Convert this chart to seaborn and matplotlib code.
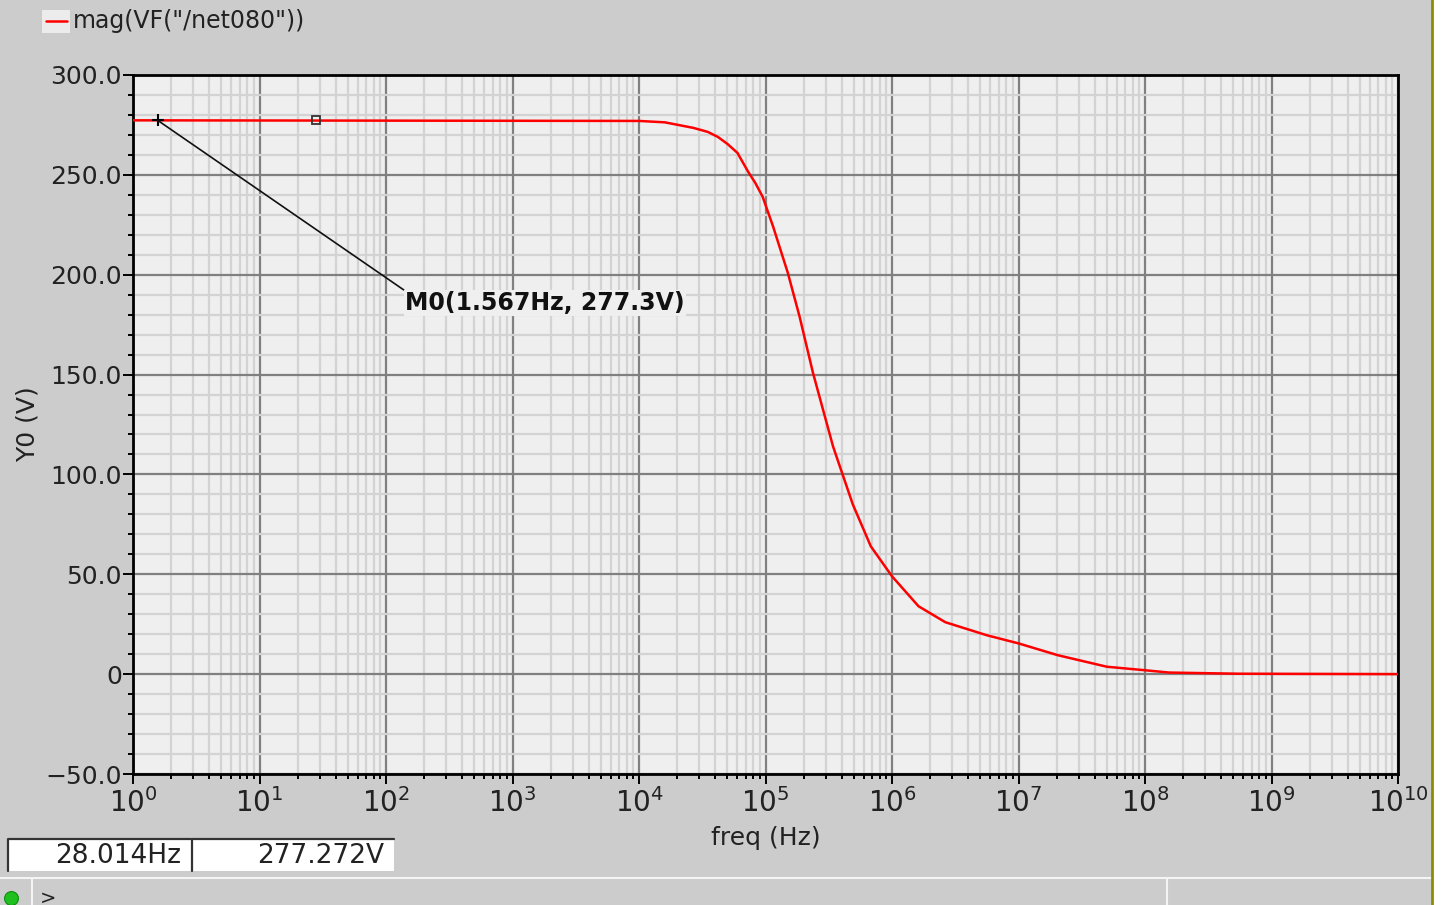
import numpy as np
import matplotlib
matplotlib.use("Agg")
import matplotlib.pyplot as plt
import seaborn as sns
from matplotlib.patches import Rectangle
from matplotlib.lines import Line2D
from matplotlib.ticker import LogLocator, FixedLocator, MultipleLocator, FuncFormatter

freq = [1e0, 1e4, 1.6e4, 2.7e4, 3.5e4, 4.2e4, 5.0e4, 6.0e4, 7.3e4, 8.3e4, 9.5e4,
        1.15e5, 1.5e5, 1.86e5, 2.37e5, 3.42e5, 4.9e5, 6.8e5, 1.0e6, 1.62e6, 2.64e6,
        5.6e6, 1.0e7, 2.04e7, 5.0e7, 9.8e7, 1.55e8, 5.5e8, 1e10]
mag = [277.3, 277.0, 276.3, 273.5, 271.5, 269.0, 265.5, 261.0, 251.5, 246.0, 239.0,
       224.0, 201.0, 179.0, 151.0, 114.0, 85.0, 64.0, 49.0, 34.0, 26.0,
       19.5, 15.4, 9.5, 3.7, 2.0, 0.8, 0.2, 0.0]
trace_name = 'mag(VF("/net080"))'
m0_freq, m0_val = 1.567, 277.3
m0_label = "M0(1.567Hz, 277.3V)"
cursor_freq, cursor_val = 28.014, 277.272
cursor_texts = ["28.014Hz", "277.272V"]
x_ticks = [10.0 ** k for k in range(0, 11)]
y_ticks = [-50, 0, 50, 100, 150, 200, 250, 300]

W, H = 1442, 905
BG = "#cccccc"
PLOT_BG = "#efefef"

sns.set_theme(style="white")
plt.rcParams["font.family"] = ["DejaVu Sans"]
plt.rcParams["mathtext.default"] = "regular"

fig = plt.figure(figsize=(W / 100, H / 100), dpi=100, facecolor=BG)


def fx(x):
    return x / W


def fy(y):
    return 1 - y / H


ax = fig.add_axes([fx(133), fy(774), fx(1398) - fx(133), fy(75) - fy(774)])
ax.set_facecolor(PLOT_BG)

sns.lineplot(x=freq, y=mag, ax=ax, color="#ff0000", linewidth=1.8, sort=False, zorder=3)

ax.set_xscale("log")
ax.set_xlim(1, 1e10)
ax.set_ylim(-50, 300)

ax.xaxis.set_major_locator(FixedLocator(x_ticks))
ax.xaxis.set_major_formatter(FuncFormatter(
    lambda v, p: r"$10^{%d}$" % int(round(np.log10(v)))))
ax.xaxis.set_minor_locator(LogLocator(base=10, subs=np.arange(2, 10), numticks=20))
ax.yaxis.set_major_locator(FixedLocator(y_ticks))
ax.yaxis.set_minor_locator(MultipleLocator(10))
ax.yaxis.set_major_formatter(FuncFormatter(
    lambda v, p: "0" if v == 0 else f"{v:.1f}".replace("-", "\u2212")))

ax.set_axisbelow(True)
ax.grid(which="major", color="#808080", linewidth=1.6)
ax.grid(which="minor", color="#d3d3d3", linewidth=1.6)

for s in ax.spines.values():
    s.set_color("black")
    s.set_linewidth(2)

ax.tick_params(which="major", direction="out", length=7, width=1.4, color="black",
               labelsize=18, labelcolor="#222222", pad=1)
ax.tick_params(which="minor", direction="out", length=3.5, width=1.4, color="black")
ax.tick_params(axis="x", which="major", pad=3, labelsize=20)
ax.tick_params(left=True, bottom=True, which="both")

ax.set_xlabel("freq (Hz)", fontsize=18, color="#222222", labelpad=6)
ax.set_ylabel("Y0 (V)", fontsize=18, color="#222222", labelpad=4)

# markers
ax.plot([m0_freq], [m0_val], marker="+", color="black", markersize=9, mew=1.5, zorder=5)
ax.plot([cursor_freq], [cursor_val], marker="s", markersize=6, mfc="none",
        mec="#333333", mew=1.3, zorder=5)
ax.annotate(m0_label, xy=(m0_freq, m0_val), xytext=(141, 192), textcoords="data",
            ha="left", va="top", fontsize=17, fontweight="bold", color="#111111",
            bbox=dict(boxstyle="square,pad=0.05", fc=PLOT_BG, ec="none"),
            arrowprops=dict(arrowstyle="-", color="#111111", lw=1.2,
                            relpos=(0, 1), shrinkA=0, shrinkB=0),
            zorder=6)

# legend at top left
fig.patches.append(Rectangle((fx(42), fy(33)), fx(28), fy(10) - fy(33),
                             transform=fig.transFigure, fc="#ececec", ec="none"))
fig.lines.append(Line2D([fx(46), fx(67)], [fy(21), fy(21)], transform=fig.transFigure,
                        color="#ff0000", lw=1.8))
fig.text(fx(73), fy(21), trace_name, fontsize=17, color="#222222", va="center", ha="left")

# cursor value boxes
for (x0, x1), txt in zip([(7, 191), (191, 394)], cursor_texts):
    fig.patches.append(Rectangle((fx(x0), fy(871)), fx(x1) - fx(x0), fy(838) - fy(871),
                                 transform=fig.transFigure, fc="white", ec="none"))
    fig.lines.append(Line2D([fx(x0 + 1), fx(x0 + 1), fx(x1)], [fy(871), fy(839), fy(839)],
                            transform=fig.transFigure, color="#333333", lw=1.6))
    fig.text(fx(x1 - 10), fy(856), txt, fontsize=19, color="#222222", va="center", ha="right")

# status strip
fig.lines.append(Line2D([0, fx(1432)], [fy(878), fy(878)], transform=fig.transFigure,
                        color="#f4f4f4", lw=1.5))
for xv in (32, 1167):
    fig.lines.append(Line2D([fx(xv), fx(xv)], [fy(878), 0], transform=fig.transFigure,
                            color="#f4f4f4", lw=1.5))
fig.lines.append(Line2D([fx(11)], [fy(898)], transform=fig.transFigure, marker="o",
                        markersize=10, mfc="#1fbf1f", mec="#0f8f0f", mew=0.8, ls="none"))
fig.text(fx(40), fy(898), ">", fontsize=14, color="#222222", va="center", ha="left")

# right border of the window
cover = Rectangle((fx(1433), 0), 1 - fx(1433), 1, transform=fig.transFigure,
                  fc="white", ec="none", zorder=20)
fig.add_artist(cover)
edge = Line2D([fx(1432), fx(1432)], [0, 1], transform=fig.transFigure,
              color="#8c8c00", lw=2, zorder=21)
fig.add_artist(edge)

fig.savefig("out.png", dpi=100, facecolor=BG)
